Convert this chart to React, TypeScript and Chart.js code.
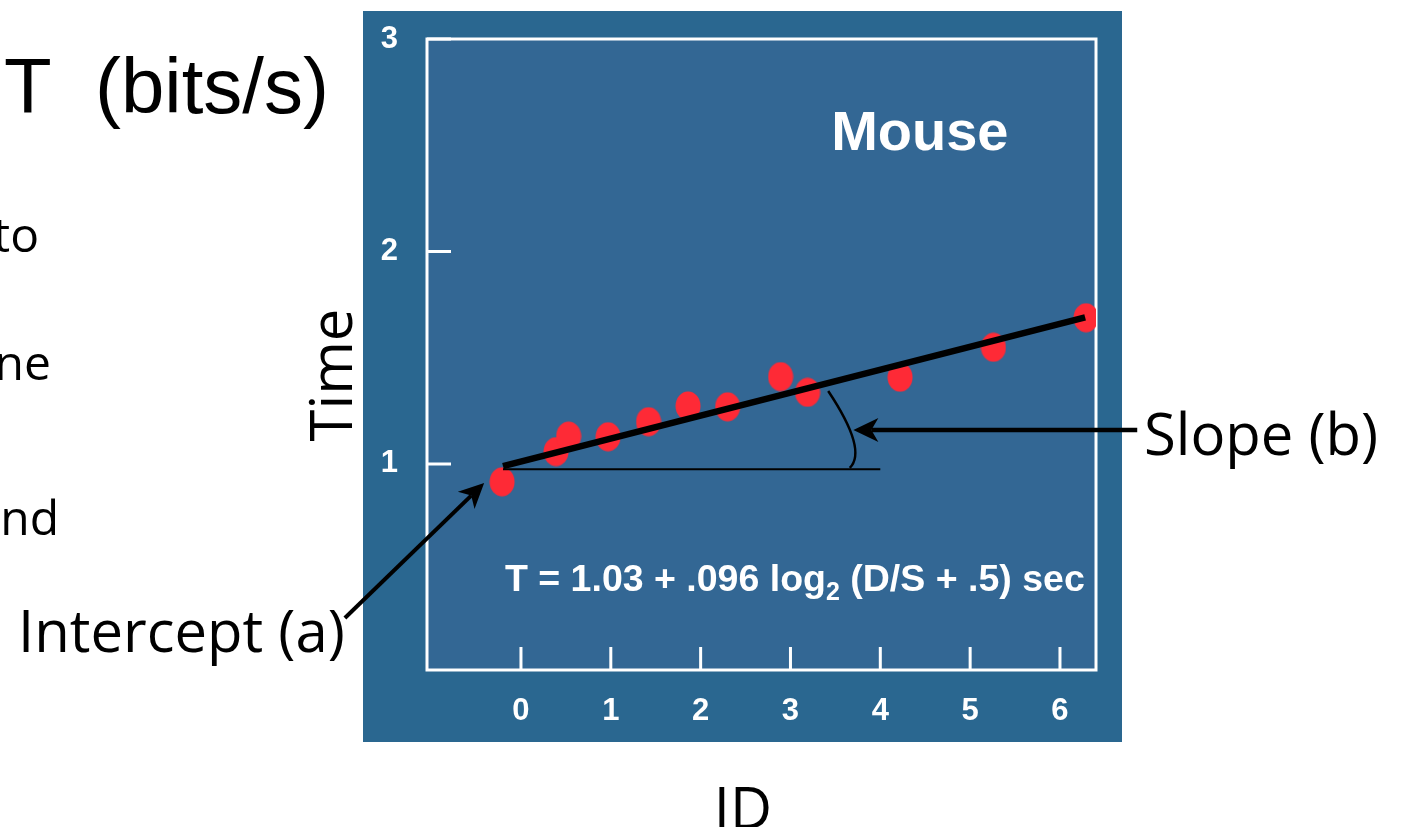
import React, { useEffect, useRef } from "react";
import { Chart, registerables } from "chart.js";

Chart.register(...registerables);

// ---------- data ----------
const idValues = [-0.21, 0.39, 0.53, 0.97, 1.42, 1.86, 2.3, 2.89, 3.19, 4.22, 5.26, 6.29];
const timeValues = [0.916, 1.058, 1.131, 1.128, 1.199, 1.273, 1.269, 1.411, 1.337, 1.408, 1.549, 1.688];
const fitId = [-0.2, 6.28];
const fitTime = [0.99, 1.69];
const baseId = [-0.2, 4.0];
const baseTime = [0.975, 0.975];
const xTickValues = [0, 1, 2, 3, 4, 5, 6];
const yTickValues = [1, 2, 3];
const xRange = [-1.046, 6.401];
const yRange = [0.03, 3];

// ---------- texts ----------
const chartTitle = "Mouse";
const equationMain = "T = 1.03 + .096 log";
const equationSub = "2";
const equationTail = " (D/S + .5) sec";
const yAxisTitle = "Time";
const xAxisTitle = "ID";
const slopeLabel = "Slope (b)";
const interceptLabel = "Intercept (a)";
const headerText = "MT  (bits/s)";
const bulletFragments = ["to", "ne", "nd"];

// ---------- annotation anchors (data units) ----------
const arcPoints = [[3.42, 1.343], [3.7, 1.113], [3.66, 0.981]];
const slopeArrow = [[6.86, 1.16], [3.7, 1.16]];
const interceptArrow = [[-1.96, 0.275], [-0.41, 0.91]];
const titleAnchor = [4.44, 2.478];
const equationAnchor = [-0.178, 0.402];

// ---------- styles / layout ----------
const W = 1406;
const H = 827;
const PANEL_OUTER = "#2a6790";
const PANEL_INNER = "#336794";
const POINT_RED = "#fe2a36";
const SANS = '"Liberation Sans", Arial, sans-serif';
const SLIDE = '"Open Sans", "Noto Sans", sans-serif';

function makeEllipse(w: number, h: number, color: string) {
  const c = document.createElement("canvas");
  c.width = w;
  c.height = h;
  const g = c.getContext("2d")!;
  g.fillStyle = color;
  g.beginPath();
  g.ellipse(w / 2, h / 2, w / 2 - 0.5, h / 2 - 0.5, 0, 0, Math.PI * 2);
  g.fill();
  return c;
}

function drawArrow(ctx: CanvasRenderingContext2D, x1: number, y1: number, x2: number, y2: number,
  width: number, headLen: number, headHalf: number, notch: number) {
  const dx = x2 - x1, dy = y2 - y1;
  const len = Math.hypot(dx, dy);
  const ux = dx / len, uy = dy / len;
  const px = -uy, py = ux;
  ctx.lineWidth = width;
  ctx.beginPath();
  ctx.moveTo(x1, y1);
  ctx.lineTo(x2 - ux * notch, y2 - uy * notch);
  ctx.stroke();
  ctx.beginPath();
  ctx.moveTo(x2, y2);
  ctx.lineTo(x2 - ux * headLen + px * headHalf, y2 - uy * headLen + py * headHalf);
  ctx.lineTo(x2 - ux * notch, y2 - uy * notch);
  ctx.lineTo(x2 - ux * headLen - px * headHalf, y2 - uy * headLen - py * headHalf);
  ctx.closePath();
  ctx.fill();
}

const panelPlugin = {
  id: "panel",
  beforeDraw(chart: any) {
    const { ctx, chartArea: a, scales } = chart;
    ctx.save();
    ctx.fillStyle = PANEL_OUTER;
    ctx.fillRect(a.left - 64, a.top - 28, a.right - a.left + 90, a.bottom - a.top + 100);
    ctx.fillStyle = PANEL_INNER;
    ctx.fillRect(a.left, a.top, a.right - a.left, a.bottom - a.top);
    ctx.strokeStyle = "#ffffff";
    ctx.lineWidth = 3;
    ctx.strokeRect(a.left, a.top, a.right - a.left, a.bottom - a.top);
    // inward tick marks
    ctx.beginPath();
    xTickValues.forEach((v) => {
      const p = scales.x.getPixelForValue(v);
      ctx.moveTo(p, a.bottom);
      ctx.lineTo(p, a.bottom - 23);
    });
    yTickValues.forEach((v) => {
      const p = scales.y.getPixelForValue(v);
      ctx.moveTo(a.left, p);
      ctx.lineTo(a.left + 24, p);
    });
    ctx.stroke();
    ctx.restore();
  },
  afterDatasetsDraw(chart: any) {
    const { ctx, scales } = chart;
    const X = (v: number) => scales.x.getPixelForValue(v);
    const Y = (v: number) => scales.y.getPixelForValue(v);
    ctx.save();
    ctx.strokeStyle = "#000";
    ctx.fillStyle = "#000";
    ctx.lineCap = "butt";
    // slope arc
    const [s, m, e] = arcPoints.map(([x, y]) => [X(x), Y(y)]);
    const cx = 2 * m[0] - (s[0] + e[0]) / 2;
    const cy = 2 * m[1] - (s[1] + e[1]) / 2;
    ctx.lineWidth = 2.5;
    ctx.beginPath();
    ctx.moveTo(s[0], s[1]);
    ctx.quadraticCurveTo(cx, cy, e[0], e[1]);
    ctx.stroke();
    // arrows
    drawArrow(ctx, X(slopeArrow[0][0]), Y(slopeArrow[0][1]), X(slopeArrow[1][0]), Y(slopeArrow[1][1]), 4.5, 25, 12, 18);
    drawArrow(ctx, X(interceptArrow[0][0]), Y(interceptArrow[0][1]), X(interceptArrow[1][0]), Y(interceptArrow[1][1]), 4, 25, 12, 18);
    // in-plot texts
    ctx.fillStyle = "#ffffff";
    ctx.textBaseline = "alphabetic";
    ctx.textAlign = "center";
    ctx.font = `bold 56px ${SANS}`;
    ctx.fillText(chartTitle, X(titleAnchor[0]), Y(titleAnchor[1]));
    ctx.textAlign = "left";
    const ex = X(equationAnchor[0]);
    const ey = Y(equationAnchor[1]);
    ctx.font = `bold 37.5px ${SANS}`;
    ctx.fillText(equationMain, ex, ey);
    let cursor = ex + ctx.measureText(equationMain).width;
    ctx.font = `bold 25px ${SANS}`;
    ctx.fillText(equationSub, cursor, ey + 9);
    cursor += ctx.measureText(equationSub).width;
    ctx.font = `bold 37.5px ${SANS}`;
    ctx.fillText(equationTail, cursor, ey);
    ctx.restore();
  },
  afterDraw(chart: any) {
    const { ctx } = chart;
    ctx.save();
    ctx.fillStyle = "#000";
    ctx.textBaseline = "alphabetic";
    // slide heading fragment
    ctx.font = `78px ${SANS}`;
    ctx.textAlign = "right";
    ctx.fillText(headerText, 329, 113);
    // bullet fragments
    ctx.font = `48px ${SLIDE}`;
    const bx = [39, 51, 59];
    const by = [252, 380, 535];
    bulletFragments.forEach((t, i) => ctx.fillText(t, bx[i], by[i]));
    // labels
    ctx.font = `58px ${SLIDE}`;
    ctx.textAlign = "left";
    ctx.fillText(interceptLabel, 18, 652);
    ctx.fillText(slopeLabel, 1144, 455);
    ctx.textAlign = "center";
    ctx.fillText(xAxisTitle, 743, 829);
    ctx.translate(352, 375);
    ctx.rotate(-Math.PI / 2);
    ctx.fillText(yAxisTitle, 0, 0);
    ctx.restore();
  },
};

export default function App() {
  const ref = useRef<HTMLCanvasElement | null>(null);
  useEffect(() => {
    if (!ref.current) return;
    const pointImg = makeEllipse(26, 30, POINT_RED);
    const tickFont = { family: SANS, size: 31, weight: "bold" as const };
    const chart = new Chart(ref.current, {
      type: "scatter",
      data: {
        datasets: [
          {
            type: "line",
            data: fitId.map((x, i) => ({ x, y: fitTime[i] })),
            borderColor: "#000",
            borderWidth: 6.5,
            pointRadius: 0,
            showLine: true,
            order: 0,
          } as any,
          {
            type: "line",
            data: baseId.map((x, i) => ({ x, y: baseTime[i] })),
            borderColor: "#000",
            borderWidth: 2,
            pointRadius: 0,
            showLine: true,
            order: 1,
          } as any,
          {
            data: idValues.map((x, i) => ({ x, y: timeValues[i] })),
            pointStyle: pointImg as any,
            pointRadius: 14,
            backgroundColor: POINT_RED,
            borderColor: POINT_RED,
            order: 2,
          },
        ],
      },
      options: {
        animation: false,
        responsive: false,
        devicePixelRatio: 1,
        events: [],
        layout: { padding: { left: 0, top: 39, right: W - 1096, bottom: 0 } },
        plugins: { legend: { display: false }, tooltip: { enabled: false }, title: { display: false } },
        scales: {
          x: {
            type: "linear",
            min: xRange[0],
            max: xRange[1],
            grid: { display: false, drawTicks: false },
            border: { display: false },
            ticks: { color: "#ffffff", font: tickFont, padding: 23, maxRotation: 0, autoSkip: false },
            afterBuildTicks: (s: any) => {
              s.ticks = xTickValues.map((v) => ({ value: v }));
            },
            afterFit: (s: any) => {
              s.height = H - 670;
              s.paddingLeft = 0;
              s.paddingRight = 0;
            },
          },
          y: {
            type: "linear",
            min: yRange[0],
            max: yRange[1],
            grid: { display: false, drawTicks: false },
            border: { display: false },
            ticks: { color: "#ffffff", font: tickFont, padding: 29, autoSkip: false },
            afterBuildTicks: (s: any) => {
              s.ticks = yTickValues.map((v) => ({ value: v }));
            },
            afterFit: (s: any) => {
              s.width = 427;
              s.paddingTop = 0;
              s.paddingBottom = 0;
            },
          },
        },
      },
      plugins: [panelPlugin],
    });
    return () => chart.destroy();
  }, []);

  return (
    <div style={{ position: "fixed", left: 0, top: 0, width: W, height: H, background: "#fff", overflow: "hidden" }}>
      <canvas ref={ref} width={W} height={H} style={{ display: "block", width: W, height: H }} />
    </div>
  );
}
